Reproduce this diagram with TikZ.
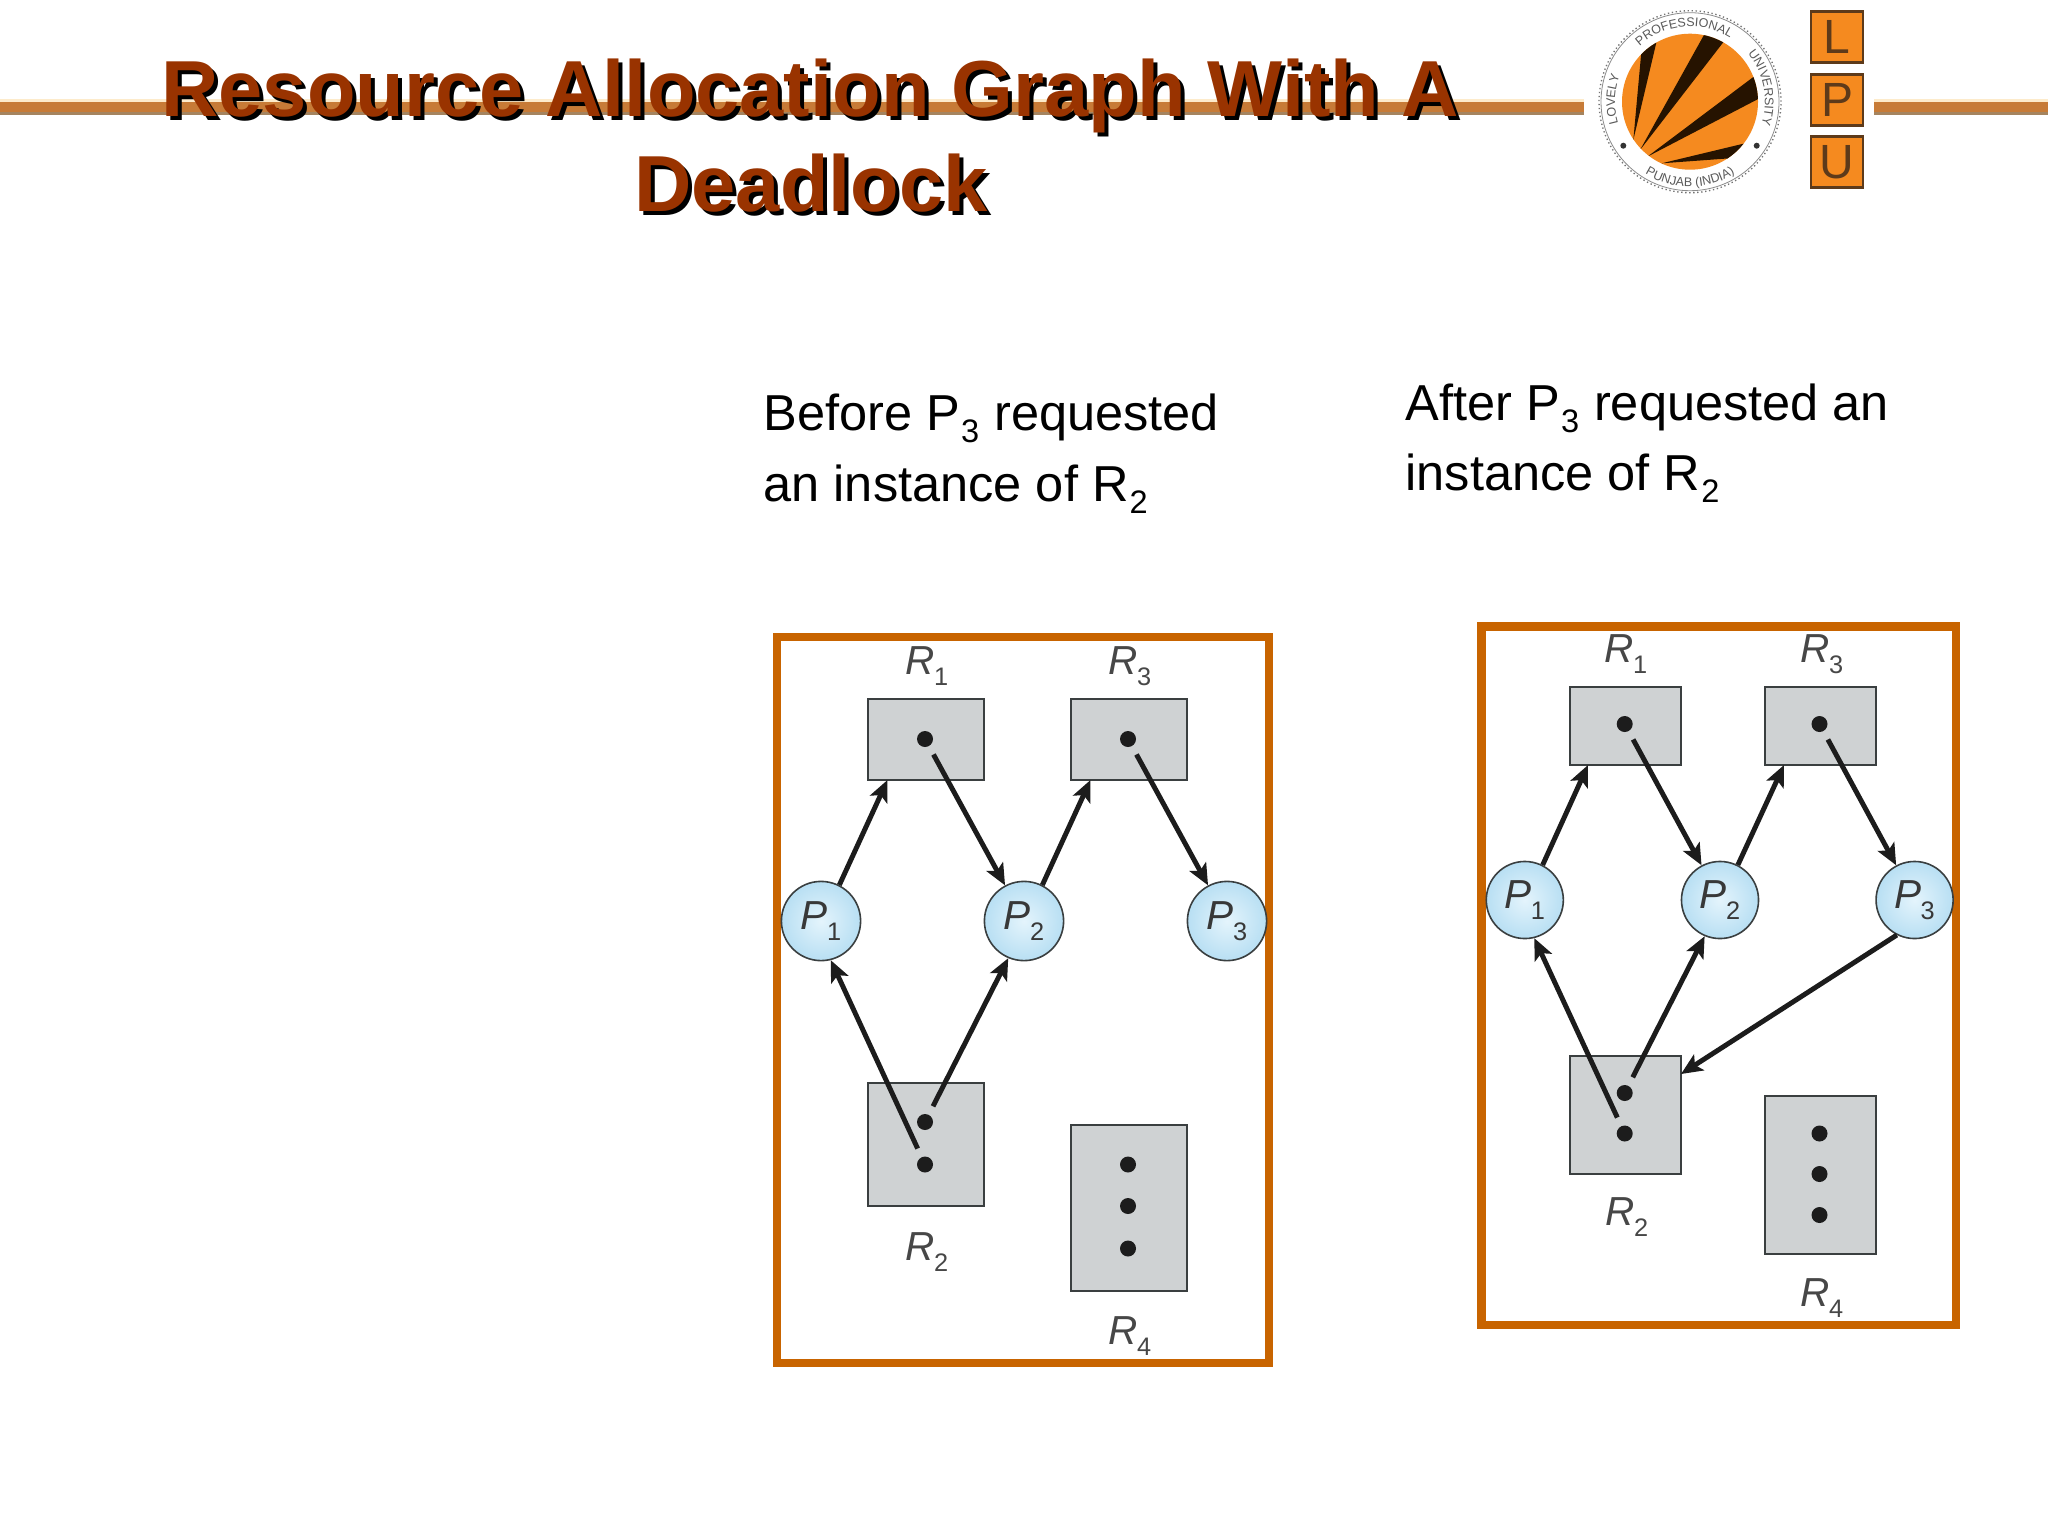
\documentclass[tikz,border=0pt]{standalone}
\usepackage{fontspec}
\setmainfont{Liberation Sans}
\usetikzlibrary{arrows.meta,decorations.text}
\definecolor{frameC}{HTML}{C86400}
\definecolor{titleC}{HTML}{993300}
\definecolor{resC}{HTML}{CFD2D3}
\definecolor{edgeC}{HTML}{3A3F40}
\definecolor{arrC}{HTML}{1C1C1C}
\definecolor{barC}{HTML}{C77B37}
\definecolor{barD}{HTML}{A5845F}
\definecolor{barL}{HTML}{FDEBCB}
\definecolor{orC}{HTML}{F58A1F}
\definecolor{lpuC}{HTML}{5D3A1A}
\definecolor{procB}{HTML}{B8DFF3}
\definecolor{procI}{HTML}{E4F4FC}
\newcommand{\lab}[2]{{\itshape #1}\kern-0.02em\raisebox{-0.5ex}{\fontsize{9.5}{9.5}\selectfont #2}}
\newcommand{\txtsub}[1]{\kern0.02em\raisebox{-0.45ex}{\fontsize{12.2}{12.2}\selectfont #1}\kern0.02em\relax}
\newcommand{\logofont}{\fontsize{4.7}{5}\selectfont}
\tikzset{
  titletext/.style={inner sep=0,font=\fontsize{29.8}{29.8}\selectfont\bfseries,text=titleC},
  titleshadow/.style={inner sep=0,font=\fontsize{29.8}{29.8}\selectfont\bfseries,text=black},
  bodytext/.style={inner sep=0,anchor=base west,font=\fontsize{18.95}{18.95}\selectfont,text=black},
  frameBox/.style={draw=frameC,fill=white,line width=3.15pt,inner sep=0},
  resBox/.style={draw=edgeC,fill=resC,line width=0.75pt,inner sep=0},
  unitDot/.style={circle,fill=arrC,inner sep=0,minimum size=6pt},
  procL/.style={circle,draw=edgeC,line width=0.6pt,inner color=procI,outer color=procB,inner sep=0,minimum size=29.7pt,text=black!78,font=\fontsize{15.2}{15.2}\selectfont},
  procR/.style={procL,minimum size=28.9pt},
  glabel/.style={inner sep=0,font=\fontsize{15.2}{15.2}\selectfont,text=black!72},
  edgeArrow/.style={draw=arrC,line width=1.85pt,-{Stealth[length=8pt,width=7pt,inset=1.8pt]}},
  lpuBox/.style={draw=lpuC,fill=orC,line width=1pt,inner sep=0,minimum width=19.4pt,minimum height=19.1pt,text=lpuC,font=\fontsize{18}{18}\selectfont},
  logoText/.style n args={1}{decorate,decoration={text along path,text align=center,text={|\logofont\color{black!65}|#1}}},
}
\begin{document}
\begin{tikzpicture}[x=0.375pt,y=-0.375pt]
\useasboundingbox (0,0) rectangle (2048,1536);
\fill[white] (0,0) rectangle (2048,1536);
% header bars
\fill[barL] (0,99) rectangle (1584,102);
\fill[barC] (0,102) rectangle (1584,112);
\fill[barD] (0,112) rectangle (1584,115);
\fill[barL] (1874,99) rectangle (2048,102);
\fill[barC] (1874,102) rectangle (2048,112);
\fill[barD] (1874,112) rectangle (2048,115);
% title
\node[titleshadow,anchor=base] (ts1) at (814,120) {Resource Allocation Graph With A};
\node[titletext,anchor=base] (tt1) at (810,116) {Resource Allocation Graph With A};
\node[titleshadow,anchor=base] (ts2) at (815,215) {Deadlock};
\node[titletext,anchor=base] (tt2) at (811,211) {Deadlock};
% logo
\fill[white] (1690,101.7) circle[radius=93*0.375pt];
\draw[black!55,line width=0.5pt,densely dotted] (1690,101.7) circle[radius=91*0.375pt];
\draw[black!45,line width=0.3pt] (1690,101.7) circle[radius=89*0.375pt];
\fill[orC] (1690,101.7) circle[radius=68*0.375pt];
\begin{scope}
\clip (1690,101.7) circle[radius=68*0.375pt];
\fill[black!85!orange] (1633.3,140) -- (1643.3,30) -- (1659.3,30) -- cycle;
\fill[black!85!orange] (1640,150) -- (1706.7,30) -- (1725,40) -- cycle;
\fill[black!85!orange] (1647.3,156.7) -- (1756,75) -- (1762,97) -- cycle;
\fill[black!85!orange] (1661.7,163.3) -- (1745,143.3) -- (1730,158.3) -- cycle;
\end{scope}
\fill[black!80] (1623.3,145.7) circle[radius=3*0.375pt];
\fill[black!80] (1756.7,145.7) circle[radius=3*0.375pt];
\begin{scope}[shift={(1690,101.7)},x=0.375pt,y=0.375pt]
\path[logoText={LOVELY}] (205:75) arc[start angle=205,end angle=151,radius=75];
\path[logoText={PROFESSIONAL}] (140:75) arc[start angle=140,end angle=50,radius=75];
\path[logoText={UNIVERSITY}] (46:75) arc[start angle=46,end angle=-24,radius=75];
\path[logoText={PUNJAB (INDIA)}] (222:85) arc[start angle=222,end angle=318,radius=85];
\end{scope}
\node[lpuBox] (lbox) at (1837,37.2) {L};
\node[lpuBox] (pbox) at (1837,99.7) {P};
\node[lpuBox] (ubox) at (1837,162) {U};
% captions
\node[bodytext] (capL1) at (763,430) {Before P\txtsub{3} requested};
\node[bodytext] (capL2) at (763,501) {an instance of R\txtsub{2}};
\node[bodytext] (capR1) at (1405,420) {After P\txtsub{3} requested an};
\node[bodytext] (capR2) at (1405,490) {instance of R\txtsub{2}};
% ===== left graph =====
\node[frameBox,minimum width=492*0.375pt,minimum height=726*0.375pt] (frameL) at (1023,1000) {};
\node[resBox,minimum width=116*0.375pt,minimum height=81*0.375pt] (lr1) at (925.5,739.5) {};
\node[resBox,minimum width=116*0.375pt,minimum height=81*0.375pt] (lr3) at (1128.5,739.5) {};
\node[resBox,minimum width=116*0.375pt,minimum height=123.5*0.375pt] (lr2) at (925.5,1144.25) {};
\node[resBox,minimum width=116*0.375pt,minimum height=166*0.375pt] (lr4) at (1128.5,1208) {};
\node[unitDot] (ld1) at (925,739) {};
\node[unitDot] (ld3) at (1128,739) {};
\node[unitDot] (ld2a) at (925,1122) {};
\node[unitDot] (ld2b) at (925,1164.5) {};
\node[unitDot] (ld4a) at (1128,1164.5) {};
\node[unitDot] (ld4b) at (1128,1206) {};
\node[unitDot] (ld4c) at (1128,1248.5) {};
\node[procL] (lp1) at (821,921) {\lab{P}{1}};
\node[procL] (lp2) at (1024,921) {\lab{P}{2}};
\node[procL] (lp3) at (1227,921) {\lab{P}{3}};
\node[glabel] (lt1) at (927,666) {\lab{R}{1}};
\node[glabel] (lt3) at (1130,666) {\lab{R}{3}};
\node[glabel] (lt2) at (927,1252) {\lab{R}{2}};
\node[glabel] (lt4) at (1130,1336) {\lab{R}{4}};
\coordinate (lr1in) at (887.5,780);
\coordinate (lr3in) at (1090.5,780);
\draw[edgeArrow] (lp1.63) -- (lr1in);
\draw[edgeArrow,shorten <=3.4pt] (ld1) -- (lp2.118);
\draw[edgeArrow] (lp2.63) -- (lr3in);
\draw[edgeArrow,shorten <=3.4pt] (ld3) -- (lp3.118);
\draw[edgeArrow,shorten <=3.4pt] (ld2b) -- (lp1.-76);
\draw[edgeArrow,shorten <=3.4pt] (ld2a) -- (lp2.-113);
% ===== right graph =====
\node[frameBox,minimum width=474.5*0.375pt,minimum height=698.4*0.375pt] (frameR) at (1718.7,975.8) {};
\node[resBox,minimum width=111.5*0.375pt,minimum height=78*0.375pt] (rr1) at (1625.5,726) {};
\node[resBox,minimum width=111.5*0.375pt,minimum height=78*0.375pt] (rr3) at (1820.7,726) {};
\node[resBox,minimum width=111.5*0.375pt,minimum height=118*0.375pt] (rr2) at (1625.5,1115) {};
\node[resBox,minimum width=111.5*0.375pt,minimum height=158*0.375pt] (rr4) at (1820.7,1175) {};
\node[unitDot] (rd1) at (1624.7,724) {};
\node[unitDot] (rd3) at (1819.5,724) {};
\node[unitDot] (rd2a) at (1624.7,1093) {};
\node[unitDot] (rd2b) at (1624.7,1133.5) {};
\node[unitDot] (rd4a) at (1819.5,1133.5) {};
\node[unitDot] (rd4b) at (1819.5,1174) {};
\node[unitDot] (rd4c) at (1819.5,1215) {};
\node[procR] (rp1) at (1524.8,900) {\lab{P}{1}};
\node[procR] (rp2) at (1720,900) {\lab{P}{2}};
\node[procR] (rp3) at (1914.6,900) {\lab{P}{3}};
\node[glabel] (rt1) at (1626,654) {\lab{R}{1}};
\node[glabel] (rt3) at (1822,654) {\lab{R}{3}};
\node[glabel] (rt2) at (1627,1217) {\lab{R}{2}};
\node[glabel] (rt4) at (1822,1298) {\lab{R}{4}};
\coordinate (rr1in) at (1588,765);
\coordinate (rr3in) at (1784,765);
\coordinate (rr2in) at (1681,1074);
\draw[edgeArrow] (rp1.63) -- (rr1in);
\draw[edgeArrow,shorten <=3.4pt] (rd1) -- (rp2.118);
\draw[edgeArrow] (rp2.63) -- (rr3in);
\draw[edgeArrow,shorten <=3.4pt] (rd3) -- (rp3.118);
\draw[edgeArrow,shorten <=3.4pt] (rd2b) -- (rp1.-76);
\draw[edgeArrow,shorten <=3.4pt] (rd2a) -- (rp2.-113);
\draw[edgeArrow] (rp3.243) -- (rr2in);
\end{tikzpicture}
\end{document}
